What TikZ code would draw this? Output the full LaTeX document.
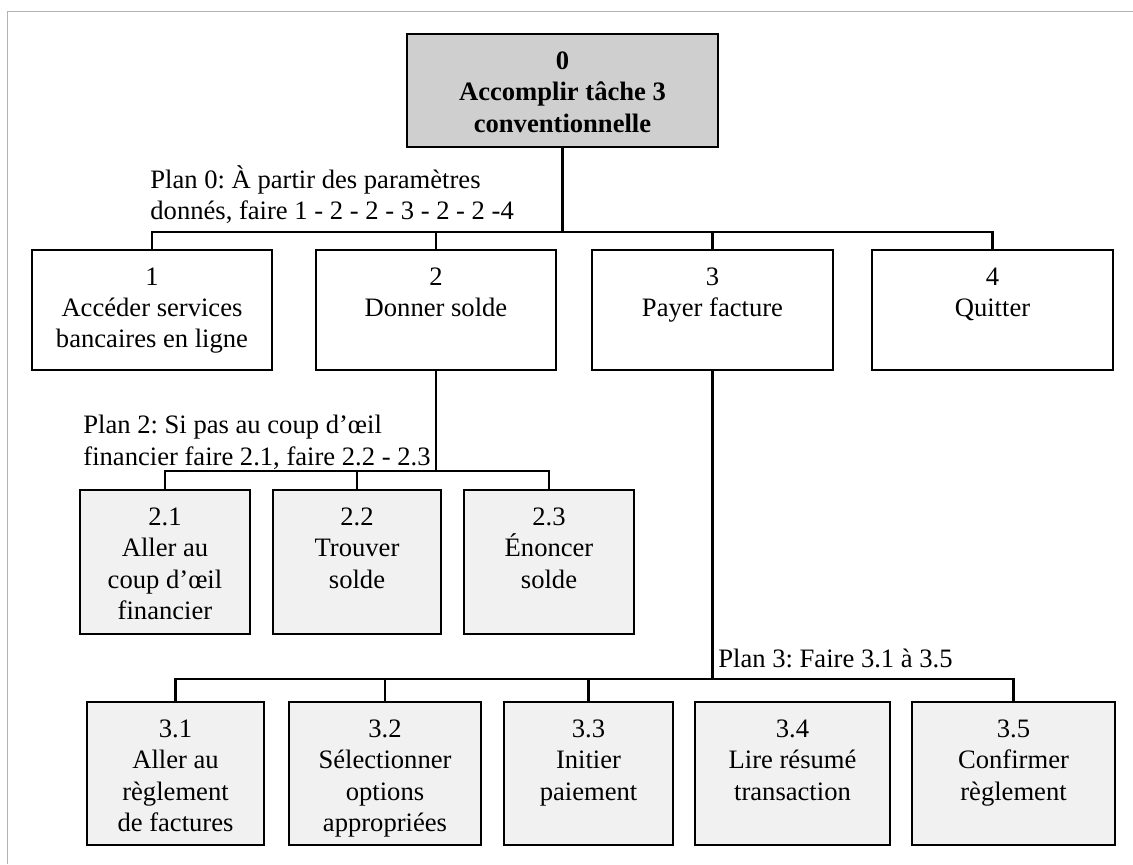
\documentclass[tikz,border=0pt]{standalone}
\usepackage{fontspec}
\setmainfont{Liberation Serif}
\usetikzlibrary{calc}
\newcommand\diagfont{\fontsize{13.3}{15.6}\selectfont\frenchspacing}
\begin{document}
\begin{tikzpicture}[x=0.5pt,y=-0.5pt,
  box/.style n args={2}{draw=black, line width=1.4pt, inner sep=0pt,
    minimum width=#1*0.5pt, minimum height=#2*0.5pt},
  topbox/.style={fill=gray!38},
  subbox/.style={fill=gray!11},
  txt/.style={font=\diagfont, align=center, inner sep=0pt, anchor=north},
  plan/.style={font=\diagfont, align=left, inner sep=0pt},
  link/.style={draw=black, line width=1.15pt}]
\useasboundingbox (0,0) rectangle (1133,864);

% page frame
\draw[gray!60, line width=0.5pt] (1133,11) -- (7,11) -- (7,864);

% level 0
\node[box={311}{113}, topbox] (b0) at (562.5,90.5) {};
\node[txt, font=\diagfont\bfseries] (t0) at ($(b0.north)+(0,19)$)
  {0\\Accomplir tâche 3\\conventionnelle};

% level 1
\node[box={240}{120}] (b1) at (152,310) {};
\node[box={240}{120}] (b2) at (436,310) {};
\node[box={241}{120}] (b3) at (712.5,310) {};
\node[box={241}{120}] (b4) at (992.5,310) {};
\node[txt] (t1) at ($(b1.north)+(0,19)$) {1\\Accéder services\\bancaires en ligne};
\node[txt] (t2) at ($(b2.north)+(0,19)$) {2\\Donner solde};
\node[txt] (t3) at ($(b3.north)+(0,19)$) {3\\Payer facture};
\node[txt] (t4) at ($(b4.north)+(0,19)$) {4\\Quitter};

% level 2 under task 2
\node[box={170}{144}, subbox] (b21) at (165,562) {};
\node[box={168}{144}, subbox] (b22) at (357,562) {};
\node[box={170}{144}, subbox] (b23) at (549,562) {};
\node[txt] (t21) at ($(b21.north)+(0,19)$) {2.1\\Aller au\\coup d’œil\\financier};
\node[txt] (t22) at ($(b22.north)+(0,19)$) {2.2\\Trouver\\solde};
\node[txt] (t23) at ($(b23.north)+(0,19)$) {2.3\\Énoncer\\solde};

% level 2 under task 3
\node[box={177}{143}, subbox] (b31) at (175.5,773.5) {};
\node[box={192}{143}, subbox] (b32) at (385,773.5) {};
\node[box={169}{143}, subbox] (b33) at (588.5,773.5) {};
\node[box={195}{143}, subbox] (b34) at (792.5,773.5) {};
\node[box={203}{143}, subbox] (b35) at (1013.5,773.5) {};
\node[txt] (t31) at ($(b31.north)+(0,19)$) {3.1\\Aller au\\règlement\\de factures};
\node[txt] (t32) at ($(b32.north)+(0,19)$) {3.2\\Sélectionner\\options\\appropriées};
\node[txt] (t33) at ($(b33.north)+(0,19)$) {3.3\\Initier\\paiement};
\node[txt] (t34) at ($(b34.north)+(0,19)$) {3.4\\Lire résumé\\transaction};
\node[txt] (t35) at ($(b35.north)+(0,19)$) {3.5\\Confirmer\\règlement};

% plans
\node[plan, anchor=north west] (p0) at (150,165)
  {Plan 0: À partir des paramètres\\donnés, faire 1 - 2 - 2 - 3 - 2 - 2 -4};
\node[plan, anchor=north west] (p2) at (83,415)
  {Plan 2: Si pas au coup d’œil\\financier faire 2.1, faire 2.2 - 2.3};
\node[plan, anchor=base west] (p3) at (718,667) {Plan 3: Faire 3.1 à 3.5};

% junctions
\coordinate (j0) at (b0.south |- 0,232);
\coordinate (j2) at (b2.south |- 0,471);
\coordinate (j3) at (b3.south |- 0,679);

% connectors
\draw[link] (b0.south) -- (j0);
\draw[link] (b1.north) |- (j0) -| (b4.north);
\draw[link] (b2.north) -- (b2.north |- j0);
\draw[link] (b3.north) -- (b3.north |- j0);

\draw[link] (b2.south) -- (j2);
\draw[link] (b21.north) |- (j2) -| (b23.north);
\draw[link] (b22.north) -- (b22.north |- j2);

\draw[link] (b3.south) -- (j3);
\draw[link] (b31.north) |- (j3) -| (b35.north);
\draw[link] (b32.north) -- (b32.north |- j3);
\draw[link] (b33.north) -- (b33.north |- j3);
\end{tikzpicture}
\end{document}
